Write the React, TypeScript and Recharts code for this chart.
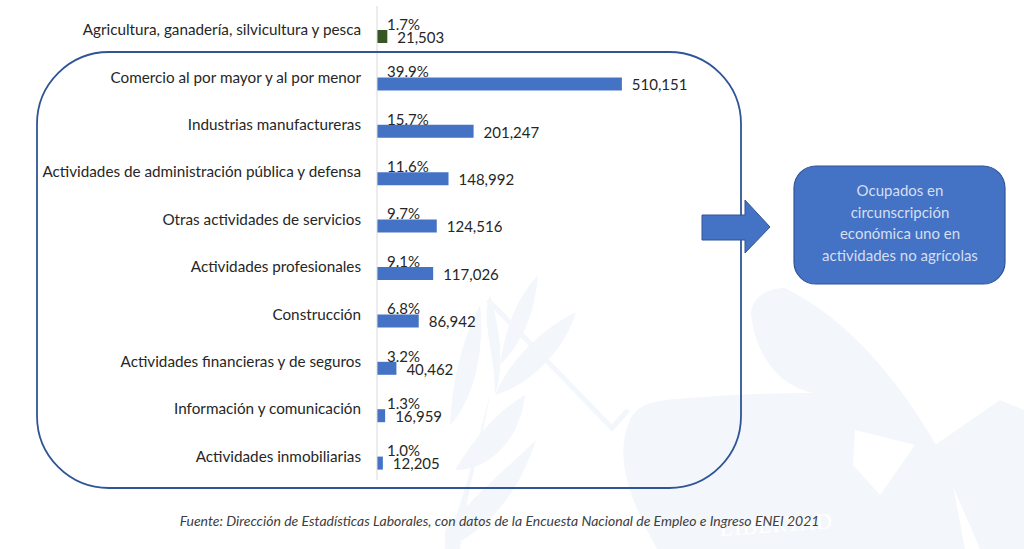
import React from "react";
import { BarChart, Bar, XAxis, YAxis, Cell, LabelList } from "recharts";

const categories = [
  "Agricultura, ganadería, silvicultura y pesca",
  "Comercio al por mayor y al por menor",
  "Industrias manufactureras",
  "Actividades de administración pública y defensa",
  "Otras actividades de servicios",
  "Actividades profesionales",
  "Construcción",
  "Actividades financieras y de seguros",
  "Información y comunicación",
  "Actividades inmobiliarias",
];
const shares = [1.7, 39.9, 15.7, 11.6, 9.7, 9.1, 6.8, 3.2, 1.3, 1.0];
const workers = [21503, 510151, 201247, 148992, 124516, 117026, 86942, 40462, 16959, 12205];
const boxLines = ["Ocupados en", "circunscripción", "económica uno en", "actividades no agrícolas"];
const sourceNote = "Fuente: Dirección de Estadísticas Laborales, con datos de la Encuesta Nacional de Empleo e Ingreso ENEI 2021";

const data = categories.map((name, i) => ({ name, share: shares[i], workers: workers[i] }));
const FONT = "Lato, 'Open Sans', sans-serif";
const TEXT = "#262626";
const WM = "#f3f7fb";

export default function App() {
  return (
    <div style={{ position: "absolute", left: 0, top: 0, width: 1024, height: 549, background: "#fff", overflow: "hidden", fontFamily: FONT }}>
      <svg width={1024} height={549} style={{ position: "absolute", left: 0, top: 0 }}>
        {/* faint background emblem */}
        <path d="M657 549 C630 500 615 460 628 425 C634 405 650 400 690 398 C740 394 780 393 813 393 C775 385 755 350 751 315 C750 300 765 288 785 288 C850 320 905 385 950 470 L965 549 Z" fill={WM} />
        <path d="M980 549 L935 445 L1000 400 L1024 410 L1024 549 Z" fill={WM} />
        <path d="M855 430 L915 445 L880 495 L853 465 Z" fill="#fff" />
        <path d="M488 300 L612 428 L628 410" fill="none" stroke={WM} strokeWidth={5} />
        <path d="M500 365 C505 330 515 300 538 275 C535 310 525 340 500 365 Z" fill={WM} />
        <path d="M495 395 C495 350 480 320 490 295 C500 330 505 365 495 395 Z" fill={WM} />
        <path d="M495 395 C510 360 540 330 576 312 C565 350 530 385 495 395 Z" fill={WM} />
        <path d="M450 425 C452 380 462 340 480 305 C485 345 475 400 450 425 Z" fill={WM} />
        <path d="M445 549 C470 480 480 430 490 395 C480 450 465 500 460 549 Z" fill={WM} />
        <path d="M455 470 C480 430 500 410 525 395 C520 440 490 470 455 470 Z" fill={WM} />
        <path d="M445 530 C480 490 510 465 536 440 C520 490 490 530 445 549 Z" fill={WM} />
        <text x={720} y={536} fill="#fff" fontSize={22} fontFamily="'Liberation Serif', serif" letterSpacing={1} transform="rotate(-4 720 536)">LIBERTAD</text>
      </svg>
      <div style={{ position: "absolute", left: 0, top: 0 }}>
        <BarChart
          width={1024}
          height={481}
          data={data}
          layout="vertical"
          barSize={13}
          barGap={1}
          margin={{ top: 6, right: 359, bottom: 1, left: 0 }}
        >
          <XAxis type="number" hide domain={[0, 600000]} />
          <YAxis
            type="category"
            dataKey="name"
            width={377}
            interval={0}
            tickLine={false}
            tickMargin={10}
            axisLine={{ stroke: "#d9d9d9", strokeWidth: 1 }}
            tick={{ fill: TEXT, fontSize: 15.25, fontFamily: FONT }}
          />
          <Bar dataKey="share" fill="none" isAnimationActive={false}>
            <LabelList
              dataKey="share"
              position="right"
              offset={10}
              dy={2}
              formatter={(v: number) => v.toFixed(1) + "%"}
              style={{ fill: TEXT, fontSize: 15, fontFamily: FONT }}
            />
          </Bar>
          <Bar dataKey="workers" fill="#4472c4" isAnimationActive={false}>
            {data.map((d, i) => (
              <Cell key={d.name} fill={i === 0 ? "#375623" : "#4472c4"} />
            ))}
            <LabelList
              dataKey="workers"
              position="right"
              offset={10}
              dy={1}
              formatter={(v: number) => v.toLocaleString("en-US")}
              style={{ fill: TEXT, fontSize: 15, fontFamily: FONT }}
            />
          </Bar>
        </BarChart>
      </div>
      <svg width={1024} height={549} style={{ position: "absolute", left: 0, top: 0, pointerEvents: "none" }}>
        <rect x={37} y={52} width={704} height={436} rx={72} ry={72} fill="none" stroke="#2f5597" strokeWidth={1.8} />
        <path d="M702 215 H745 V200 L770 227 L745 253 V240 H702 Z" fill="#4472c4" stroke="#2f5597" strokeWidth={1} />
        <rect x={794} y={166} width={211} height={118} rx={22} ry={22} fill="#4472c4" stroke="#2f5597" strokeWidth={1.2} />
        {boxLines.map((line, i) => (
          <text key={line} x={900} y={196 + i * 21.5} textAnchor="middle" fill="#d5dff2" fontSize={15} fontFamily={FONT}>
            {line}
          </text>
        ))}
        <text x={499.5} y={526} textAnchor="middle" fill="#404040" fontSize={14} fontStyle="italic" fontFamily={FONT}>
          {sourceNote}
        </text>
      </svg>
    </div>
  );
}
